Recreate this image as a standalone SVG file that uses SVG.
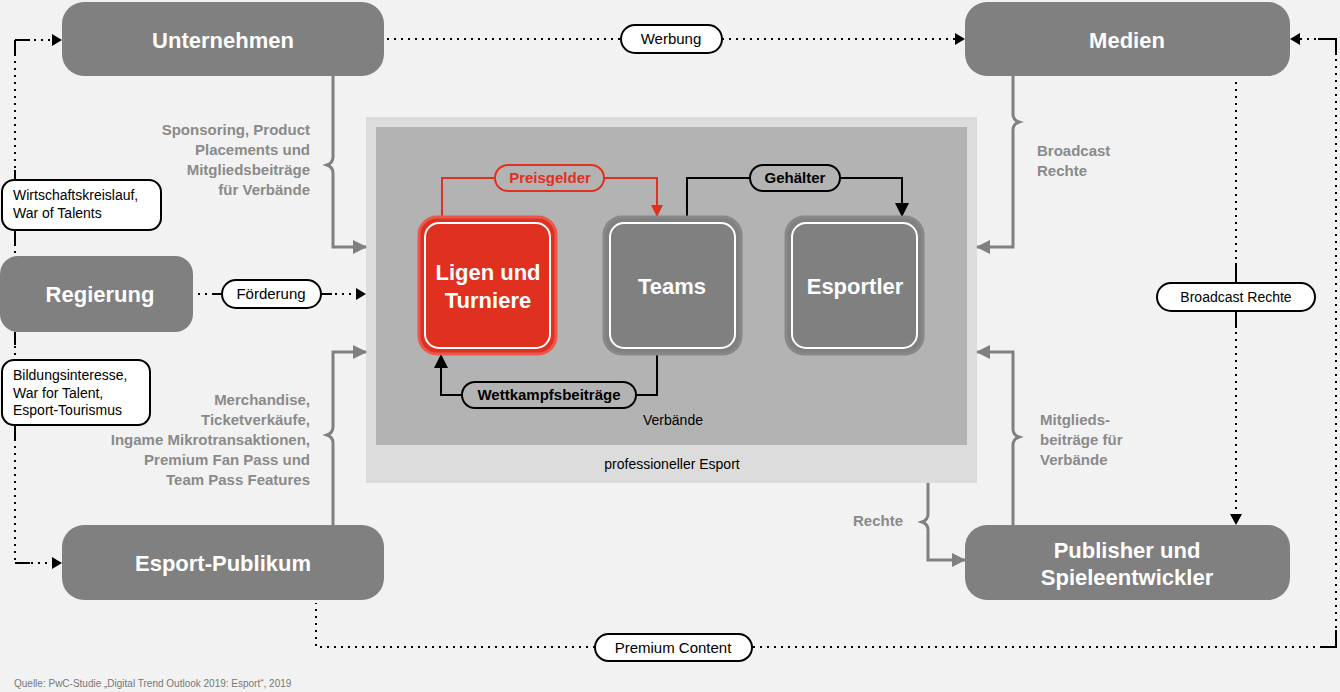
<svg xmlns="http://www.w3.org/2000/svg" width="1340" height="692" viewBox="0 0 1340 692">
<defs>
<marker id="ag" markerWidth="14" markerHeight="14" refX="13" refY="7" orient="auto" markerUnits="userSpaceOnUse"><path d="M0,0 L14,7 L0,14 z" fill="#808080"/></marker>
<marker id="ar" markerWidth="12" markerHeight="12" refX="11" refY="6" orient="auto" markerUnits="userSpaceOnUse"><path d="M0,0 L12,6 L0,12 z" fill="#e03020"/></marker>
<marker id="ab" markerWidth="14" markerHeight="14" refX="13" refY="7" orient="auto" markerUnits="userSpaceOnUse"><path d="M0,0 L14,7 L0,14 z" fill="#000"/></marker>
</defs>
<style>
text{font-family:"Liberation Sans",Arial,sans-serif}
.node{fill:#808080}
.nt{fill:#fff;font-weight:bold;font-size:22px;text-anchor:middle}
.dot{fill:none;stroke:#000;stroke-width:2;stroke-dasharray:2 5}
.sol{fill:none;stroke:#000;stroke-width:2}
.gr{fill:none;stroke:#808080;stroke-width:3}
.pill{fill:#fff;stroke:#000;stroke-width:2}
.pt{font-size:15px;text-anchor:middle;fill:#000}
.gt{font-size:15px;font-weight:bold;fill:#8a8a8a}
.lt{font-size:14px;fill:#000}
</style>
<rect width="1340" height="692" fill="#f2f2f2"/>
<g id="esport">
<rect x="366" y="117" width="611" height="366" fill="#dcdcdc"/>
<rect x="376" y="127" width="591" height="318" fill="#b3b3b3"/>
<text x="672" y="469" class="lt" text-anchor="middle">professioneller Esport</text>
<text x="673" y="425" class="lt" text-anchor="middle">Verbände</text>
</g>
<g id="connectors">
<path class="dot" d="M50,40 H15 V180"/>
<path class="sol" d="M15,40 H30 M15,40 V55 M15,170 V180 M15,230 V245"/>
<path class="dot" d="M15,230 V256"/>
<path class="dot" d="M15,332 V360"/>
<path class="sol" d="M15,332 V345 M15,425 V440 M15,563 H30"/>
<path class="dot" d="M15,425 V563 H52"/>
<path d="M52,34 L62,40 L52,46 z M52,557 L62,563 L52,569 z"/>
<path class="dot" d="M387,39 H621 M722,39 H955"/>
<path d="M955,33 L965,39 L955,45 z"/>
<path class="dot" d="M198,294 H222 M321,294 H356"/>
<path class="sol" d="M212,294 H222 M321,294 H332"/>
<path d="M356,288 L366,294 L356,300 z"/>
<path class="dot" d="M1300,39 H1336 V647 H752 M595,647 H316 V603"/>
<path class="sol" d="M1318,39 H1336 V55 M1336,630 V647 H1320"/>
<path d="M1300,33 L1290,39 L1300,45 z"/>
<path class="dot" d="M1236,82 V283 M1236,311 V515"/>
<path class="sol" d="M1236,263 V283 M1236,311 V328"/>
<path d="M1230,514 L1236,525 L1242,514 z"/>
<path class="gr" marker-end="url(#ag)" d="M333,76 V157 Q333,163 327,165 Q333,167 333,173 V247 H366"/>
<path class="gr" marker-end="url(#ag)" d="M333,525 V443 Q333,437 327,435 Q333,433 333,427 V352 H366"/>
<path class="gr" marker-end="url(#ag)" d="M1013,76 V114 Q1013,120 1019,122 Q1013,124 1013,130 V247 H977"/>
<path class="gr" marker-end="url(#ag)" d="M1013,525 V445 Q1013,439 1019,437 Q1013,435 1013,429 V352 H977"/>
<path class="gr" marker-end="url(#ag)" d="M928,483 V514 Q928,520 922,522 Q928,524 928,530 V560 H965"/>
<path fill="none" stroke="#e03020" stroke-width="2" marker-end="url(#ar)" d="M442,216 V178 H657 V216"/>
<path class="sol" marker-end="url(#ab)" d="M687,216 V178 H902 V216"/>
<path class="sol" marker-end="url(#ab)" d="M657,355 V395 H441 V355"/>
</g>
<g id="unternehmen"><rect class="node" x="62" y="2" width="322" height="74" rx="22"/><text class="nt" x="223" y="48">Unternehmen</text></g>
<g id="medien"><rect class="node" x="965" y="2" width="325" height="74" rx="22"/><text class="nt" x="1127" y="48">Medien</text></g>
<g id="regierung"><rect class="node" x="0" y="256" width="193" height="76" rx="18"/><text class="nt" x="100" y="302">Regierung</text></g>
<g id="publikum"><rect class="node" x="62" y="525" width="322" height="75" rx="22"/><text class="nt" x="223" y="571">Esport-Publikum</text></g>
<g id="publisher"><rect class="node" x="965" y="525" width="325" height="75" rx="22"/><text class="nt" x="1127" y="558">Publisher und</text><text class="nt" x="1127" y="585">Spieleentwickler</text></g>
<g id="ligen"><rect x="419" y="217" width="137" height="137" rx="18" fill="#e03020" stroke="#e8584c" stroke-width="3"/><rect x="425" y="223" width="125" height="125" rx="14" fill="none" stroke="#fff" stroke-width="2"/><text class="nt" x="488" y="280">Ligen und</text><text class="nt" x="488" y="308">Turniere</text></g>
<g id="teams"><rect x="604" y="217" width="137" height="137" rx="18" fill="#808080" stroke="#888" stroke-width="3"/><rect x="610" y="223" width="125" height="125" rx="14" fill="none" stroke="#fff" stroke-width="2"/><text class="nt" x="672" y="294">Teams</text></g>
<g id="esportler"><rect x="786" y="217" width="137" height="137" rx="18" fill="#808080" stroke="#888" stroke-width="3"/><rect x="792" y="223" width="125" height="125" rx="14" fill="none" stroke="#fff" stroke-width="2"/><text class="nt" x="855" y="294">Esportler</text></g>
<g id="labels">
<rect x="495" y="165" width="109" height="26" rx="13" fill="#b3b3b3" stroke="#e03020" stroke-width="2"/><text x="550" y="183" class="pt" font-weight="bold" style="fill:#e03020">Preisgelder</text>
<rect x="750" y="165" width="90" height="26" rx="13" fill="#b3b3b3" stroke="#000" stroke-width="2"/><text x="795" y="183" class="pt" font-weight="bold">Gehälter</text>
<rect x="462" y="382" width="174" height="26" rx="13" fill="#b3b3b3" stroke="#000" stroke-width="2"/><text x="549" y="400" class="pt" font-weight="bold">Wettkampfsbeiträge</text>
<rect class="pill" x="621" y="25" width="101" height="28" rx="14"/><text x="671" y="44" class="pt">Werbung</text>
<rect class="pill" x="222" y="280" width="99" height="28" rx="14"/><text x="271" y="299" class="pt">Förderung</text>
<rect class="pill" x="595" y="634" width="157" height="27" rx="13.5"/><text x="673" y="653" class="pt">Premium Content</text>
<rect class="pill" x="1157" y="283" width="158" height="28" rx="14"/><text x="1236" y="302" class="pt" style="font-size:14px">Broadcast Rechte</text>
<rect class="pill" x="2" y="180" width="159" height="50" rx="12"/><text x="13" y="200" class="lt">Wirtschaftskreislauf,</text><text x="13" y="218" class="lt">War of Talents</text>
<rect class="pill" x="2" y="360" width="148" height="65" rx="12"/><text x="13" y="380" class="lt">Bildungsinteresse,</text><text x="13" y="398" class="lt">War for Talent,</text><text x="13" y="415" class="lt">Esport-Tourismus</text>
<g class="gt" text-anchor="end">
<text x="310" y="135">Sponsoring, Product</text><text x="310" y="155">Placements und</text><text x="310" y="175">Mitgliedsbeiträge</text><text x="310" y="195">für Verbände</text>
<text x="310" y="405">Merchandise,</text><text x="310" y="425">Ticketverkäufe,</text><text x="310" y="445">Ingame Mikrotransaktionen,</text><text x="310" y="465">Premium Fan Pass und</text><text x="310" y="485">Team Pass Features</text>
<text x="903" y="526">Rechte</text>
</g>
<g class="gt"><text x="1037" y="156">Broadcast</text><text x="1037" y="176">Rechte</text><text x="1040" y="425">Mitglieds-</text><text x="1040" y="445">beiträge für</text><text x="1040" y="465">Verbände</text></g>
<text x="14" y="687" font-size="10" fill="#777">Quelle: PwC-Studie „Digital Trend Outlook 2019: Esport“, 2019</text>
</g>
</svg>
